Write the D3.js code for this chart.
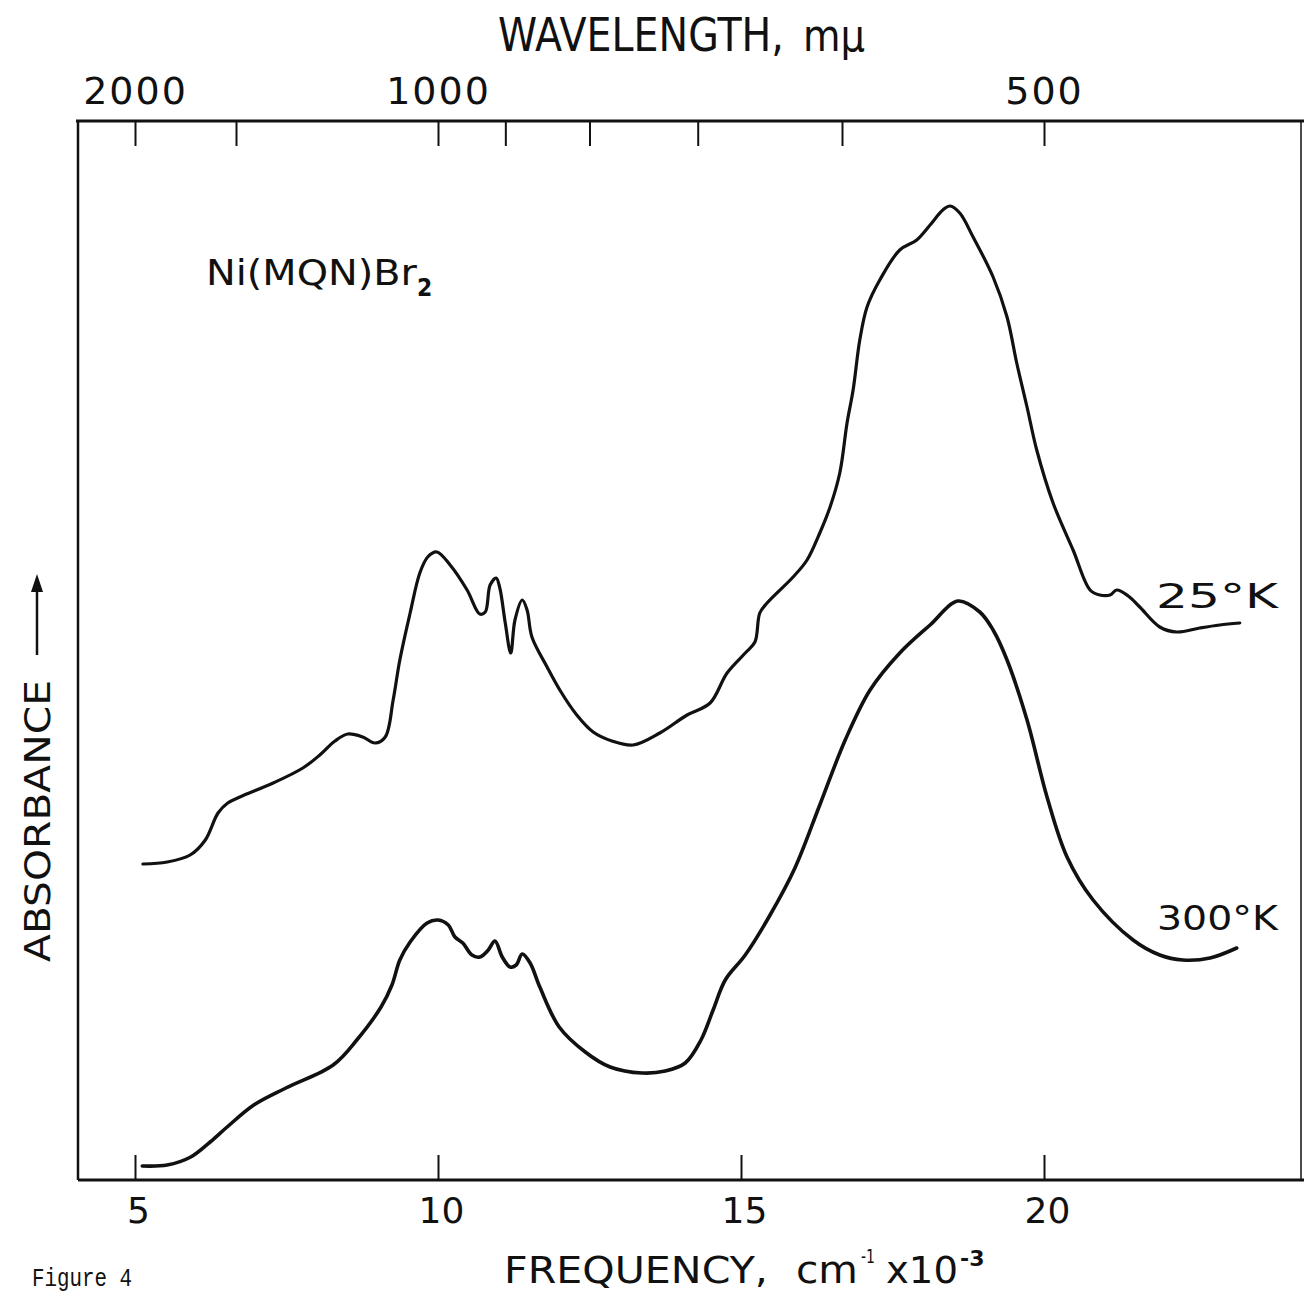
<!DOCTYPE html>
<html><head><meta charset="utf-8">
<script src="https://cdn.jsdelivr.net/npm/d3@7"></script>
<style>html,body{margin:0;padding:0;background:#fff;}svg{display:block;}</style>
</head><body>
<svg id="c" width="1304" height="1299"></svg>
<script>
// ---- data (frequency in cm^-1 x 10^-3, absorbance in arbitrary units) ----
const freq25K = [5.13,5.53,5.91,6.16,6.37,6.53,6.73,7.28,7.77,8.05,8.30,8.51,8.76,8.96,9.13,9.26,9.37,9.54,9.70,9.83,9.98,10.20,10.48,10.69,10.78,10.86,10.96,11.02,11.11,11.20,11.27,11.39,11.47,11.55,11.80,12.01,12.29,12.56,12.87,13.22,13.66,14.11,14.49,14.77,15.07,15.23,15.31,15.43,15.86,16.09,16.30,16.47,16.63,16.75,16.85,16.96,17.08,17.29,17.62,17.90,18.12,18.33,18.45,18.61,18.83,19.16,19.39,19.55,19.72,19.88,20.15,20.48,20.76,20.92,21.09,21.20,21.39,21.58,21.91,22.19,22.57,22.90,23.23];
const abs25K  = [3.16,3.18,3.25,3.40,3.67,3.77,3.83,3.97,4.12,4.25,4.39,4.46,4.43,4.37,4.43,4.80,5.20,5.67,6.07,6.23,6.28,6.15,5.90,5.66,5.68,5.95,6.02,5.92,5.57,5.27,5.60,5.80,5.70,5.43,5.13,4.90,4.65,4.48,4.39,4.35,4.47,4.65,4.77,5.07,5.27,5.38,5.67,5.77,6.03,6.20,6.47,6.73,7.07,7.57,7.90,8.40,8.73,9.00,9.30,9.40,9.55,9.70,9.74,9.67,9.43,9.03,8.63,8.17,7.73,7.30,6.77,6.30,5.90,5.85,5.85,5.90,5.84,5.73,5.53,5.48,5.52,5.55,5.57];
const freq300K = [5.12,5.53,5.92,6.24,6.52,6.96,7.49,8.27,8.66,9.06,9.24,9.37,9.54,9.82,10.00,10.17,10.28,10.41,10.56,10.69,10.83,10.94,11.06,11.19,11.29,11.39,11.52,11.68,12.00,12.43,12.84,13.37,13.75,14.08,14.34,14.54,14.74,15.07,15.48,15.89,16.30,16.72,17.13,17.62,18.12,18.58,18.94,19.16,19.39,19.72,20.05,20.38,20.81,21.47,21.91,22.29,22.74,23.18];
const abs300K  = [0.14,0.15,0.23,0.38,0.53,0.75,0.92,1.15,1.40,1.73,1.95,2.20,2.38,2.57,2.60,2.55,2.43,2.37,2.25,2.23,2.30,2.39,2.23,2.13,2.15,2.26,2.17,1.93,1.53,1.28,1.13,1.07,1.09,1.17,1.40,1.70,2.00,2.25,2.65,3.12,3.75,4.40,4.90,5.27,5.55,5.79,5.68,5.50,5.20,4.60,3.83,3.23,2.80,2.40,2.25,2.20,2.22,2.32];
const freqTicks = [5,10,15,20];
const wavelengthTicks = [2000,1500,1000,900,800,700,600,500];
const wavelengthLabels = [2000,1000,500];
const seriesLabels = ["25°K","300°K"];

// ---- layout ----
const L = 78, R = 1301, T = 121, B = 1180;
const svg = d3.select("#c");
const x = d3.scaleLinear().domain([5,20]).range([135,1044]);
const y = d3.scaleLinear().domain([0,10.59]).range([B,T]);
const ink = "#111";
const sans = "'DejaVu Sans', 'Liberation Sans', sans-serif";

// frame
svg.append("line").attr("x1",L-2).attr("x2",1304).attr("y1",T).attr("y2",T).attr("stroke",ink).attr("stroke-width",3);
svg.append("line").attr("x1",L).attr("x2",1304).attr("y1",B).attr("y2",B).attr("stroke",ink).attr("stroke-width",3);
svg.append("line").attr("x1",L).attr("x2",L).attr("y1",T).attr("y2",B).attr("stroke",ink).attr("stroke-width",2.5);
svg.append("line").attr("x1",R).attr("x2",R).attr("y1",T).attr("y2",B).attr("stroke",ink).attr("stroke-width",1.5);

// bottom axis
const bAxis = svg.append("g").attr("transform",`translate(0,${B})`)
  .call(d3.axisBottom(x).tickValues(freqTicks).tickSize(-25).tickPadding(17).tickFormat(d3.format("d")));
bAxis.select(".domain").remove();
bAxis.selectAll("line").attr("stroke",ink).attr("stroke-width",2);
bAxis.selectAll("text").attr("font-family",sans).attr("font-size",36).attr("fill",ink).attr("dx",3);

// top axis (wavelength, nm -> 10^3 cm^-1)
const tAxis = svg.append("g").attr("transform",`translate(0,${T})`)
  .call(d3.axisTop(x).tickValues(wavelengthTicks.map(w=>1e4/w)).tickSize(-25).tickPadding(17)
    .tickFormat(f => { const w = Math.round(1e4/f); return wavelengthLabels.includes(w) ? w : ""; }));
tAxis.select(".domain").remove();
tAxis.selectAll("line").attr("stroke",ink).attr("stroke-width",2);
tAxis.selectAll("text").attr("font-family",sans).attr("font-size",38).attr("fill",ink).attr("letter-spacing",2);

// curves
const line = d3.line().x(d=>x(d[0])).y(d=>y(d[1])).curve(d3.curveCatmullRom.alpha(0.5));
svg.append("path").datum(d3.zip(freq25K,abs25K)).attr("d",line).attr("fill","none").attr("stroke",ink).attr("stroke-width",3.2).attr("stroke-linejoin","round").attr("stroke-linecap","round");
svg.append("path").datum(d3.zip(freq300K,abs300K)).attr("d",line).attr("fill","none").attr("stroke",ink).attr("stroke-width",3.6).attr("stroke-linejoin","round").attr("stroke-linecap","round");

// texts: horizontally scaled to a target width
function txt(s, px, py, fs, len, family) {
  const t = svg.append("text").attr("x",0).attr("y",0).attr("font-family",family || sans).attr("font-size",fs).attr("fill",ink).text(s);
  const w = t.node().getComputedTextLength();
  const sx = len ? len / w : 1;
  t.attr("transform",`translate(${px},${py}) scale(${sx},1)`);
  return t;
}
txt("WAVELENGTH,", 498, 51, 46, 286);
txt("mμ", 803, 51, 44, 62);

txt("FREQUENCY,", 504, 1283, 38, 264);
txt("cm", 796, 1283, 38, 62);
txt("-1", 861, 1263, 20, 14);
txt("x10", 886, 1283, 38, 72);
txt("-3", 960, 1266, 22, 22).attr("font-weight","bold");

txt("Figure 4", 32, 1286, 25, 100, "'Liberation Mono','DejaVu Sans Mono',monospace");

txt("Ni(MQN)Br", 206, 285, 36, 211);
txt("2", 417, 296, 24, 14).attr("font-weight","bold");

txt(seriesLabels[0], 1156, 608, 34, 122);
txt(seriesLabels[1], 1157, 930, 34, 121);

// y label with arrow
const yl = svg.append("text").attr("font-family",sans).attr("font-size",35).attr("fill",ink).text("ABSORBANCE");
const ylw = yl.node().getComputedTextLength();
yl.attr("transform",`translate(50,962) rotate(-90) scale(${282/ylw},1)`);
svg.append("line").attr("x1",37).attr("x2",37).attr("y1",655).attr("y2",588).attr("stroke",ink).attr("stroke-width",2.5);
svg.append("path").attr("d","M37,574 L31,592 L43,592 Z").attr("fill",ink);
</script>
</body></html>
